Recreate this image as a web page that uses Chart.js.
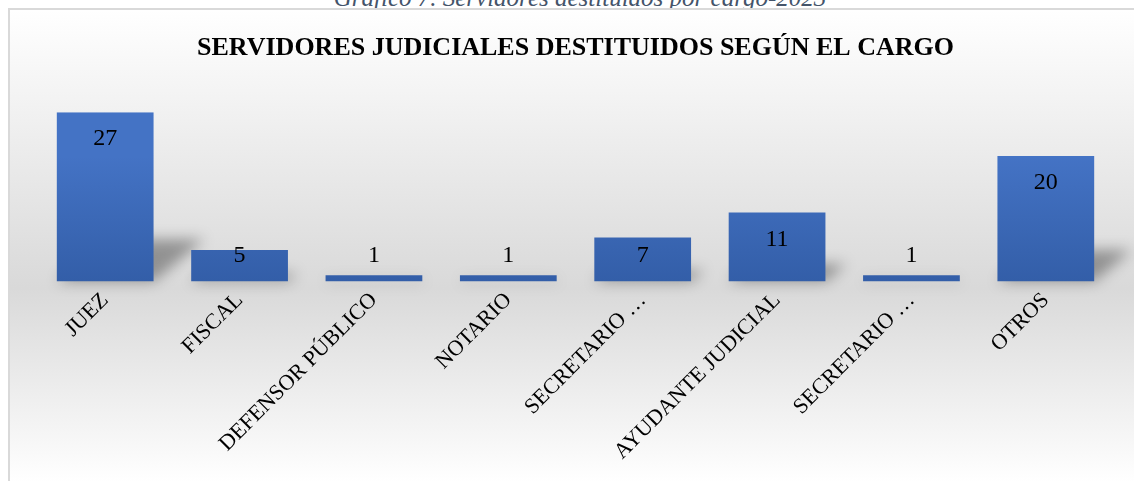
<!DOCTYPE html>
<html>
<head>
<meta charset="utf-8">
<script src="https://cdn.jsdelivr.net/npm/chart.js@4"></script>
<style>
  body { margin: 0; background: #fff; width: 1134px; height: 481px; overflow: hidden; position: relative; }
  #caption { position: absolute; left: 0; width: 1160px; top: -16px; text-align: center;
    font-family: "Liberation Serif", serif; font-style: italic; font-size: 25px; color: #44546a; }
  #box { position: absolute; left: 8px; top: 8px; width: 1140px; height: 560px;
    border: 2px solid #d9d9d9; box-sizing: border-box;
    background: linear-gradient(to bottom, #ffffff 0%, #d9d9d9 50%, #ffffff 85%); }
  #wrap { position: absolute; left: 10px; top: 10px; width: 1124px; height: 471px; }
</style>
</head>
<body>
<div id="caption">Gráfico 7. Servidores destituidos por cargo-2023</div>
<div id="box"></div>
<div id="wrap"><canvas id="graph"></canvas></div>
<script>
const cargos = ["JUEZ", "FISCAL", "DEFENSOR PÚBLICO", "NOTARIO", "SECRETARIO …", "AYUDANTE JUDICIAL", "SECRETARIO …", "OTROS"];
const destituidos = [27, 5, 1, 1, 7, 11, 1, 20];
const titulo = "SERVIDORES JUDICIALES DESTITUIDOS SEGÚN EL CARGO";

// sombra en perspectiva + degradado de cada barra
const barStyle = {
  id: "barStyle",
  beforeDatasetsDraw(chart) {
    const ctx = chart.ctx;
    const meta = chart.getDatasetMeta(0);
    ctx.save();
    ctx.filter = "blur(7px)";
    ctx.fillStyle = "rgba(0,0,0,0.34)";
    meta.data.forEach(bar => {
      const h = bar.base - bar.y;
      const half = bar.width / 2;
      const sh = h * 0.25, sx = h * 0.3;
      ctx.beginPath();
      ctx.moveTo(bar.x - half, bar.base);
      ctx.lineTo(bar.x + half, bar.base);
      ctx.lineTo(bar.x + half + sx, bar.base - sh);
      ctx.lineTo(bar.x - half + sx, bar.base - sh);
      ctx.closePath();
      ctx.fill();
    });
    ctx.restore();
    meta.data.forEach(bar => {
      const g = ctx.createLinearGradient(0, bar.y, 0, bar.base);
      g.addColorStop(0, "#4473c5");
      g.addColorStop(1, "#335ea8");
      bar.options.backgroundColor = g;
    });
  },
  afterDatasetsDraw(chart) {
    const ctx = chart.ctx;
    const meta = chart.getDatasetMeta(0);
    ctx.save();
    ctx.font = "24px 'Liberation Serif', serif";
    ctx.fillStyle = "#000";
    ctx.textAlign = "center";
    ctx.textBaseline = "middle";
    meta.data.forEach((bar, i) => {
      const y = Math.min(bar.y + 27, bar.base - 26);
      ctx.fillText(destituidos[i], bar.x, y);
    });
    ctx.restore();
  }
};

new Chart(document.getElementById("graph"), {
  type: "bar",
  data: {
    labels: cargos,
    datasets: [{ label: "Destituidos", data: destituidos, backgroundColor: "#4472c4",
      categoryPercentage: 1, barPercentage: 0.72 }]
  },
  options: {
    responsive: true,
    maintainAspectRatio: false,
    animation: false,
    layout: { padding: { left: 28, right: 21, top: 10, bottom: 10 } },
    plugins: {
      legend: { display: false },
      tooltip: { enabled: false },
      title: { display: true, text: titulo, color: "#000",
        font: { family: "'Liberation Serif', serif", size: 26, weight: "bold" },
        padding: { top: 13, bottom: 48 } }
    },
    scales: {
      x: {
        grid: { display: false, drawTicks: false },
        border: { display: false },
        ticks: { color: "#000", maxRotation: 45, minRotation: 45, autoSkip: false, padding: 6,
          font: { family: "'Liberation Serif', serif", size: 22 } }
      },
      y: { display: false, min: 0, max: 27 }
    }
  },
  plugins: [barStyle]
});
</script>
</body>
</html>
